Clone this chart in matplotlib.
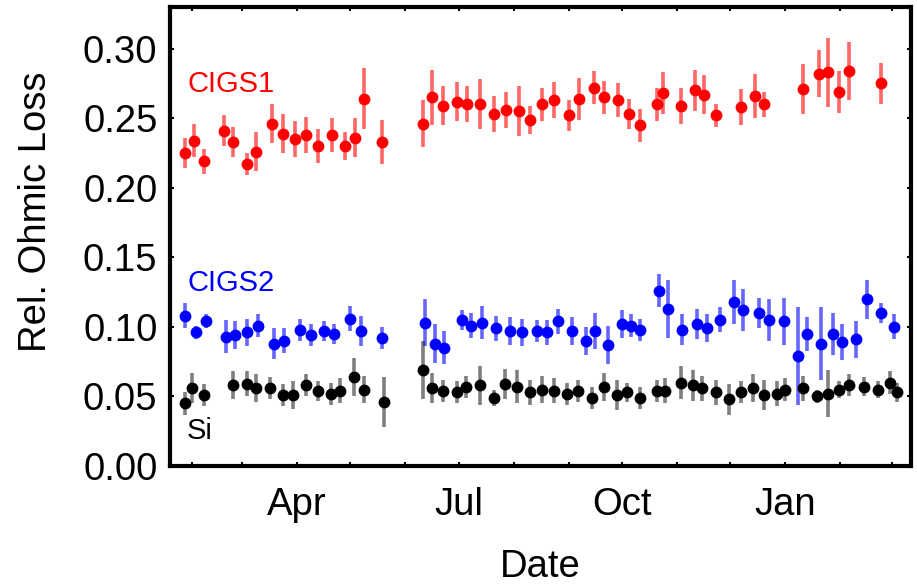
import numpy as np
import pandas as pd
import matplotlib
matplotlib.use('Agg')
from matplotlib import pyplot as plt
import matplotlib.dates as mdates

plt.rcParams['font.family'] = ['Liberation Sans', 'DejaVu Sans']

# CIGS1 (red)
cigs1_dates = ['2015-01-28', '2015-02-02', '2015-02-08', '2015-02-19', '2015-02-24', '2015-03-04',
               '2015-03-09', '2015-03-18', '2015-03-24', '2015-03-31', '2015-04-06', '2015-04-13',
               '2015-04-21', '2015-04-28', '2015-05-04', '2015-05-09', '2015-05-19',
               '2015-06-11', '2015-06-16', '2015-06-22', '2015-06-30', '2015-07-06', '2015-07-13',
               '2015-07-21', '2015-07-28', '2015-08-04', '2015-08-10', '2015-08-17', '2015-08-24',
               '2015-09-01', '2015-09-07', '2015-09-15', '2015-09-21', '2015-09-29', '2015-10-05',
               '2015-10-11', '2015-10-21', '2015-10-24', '2015-11-03', '2015-11-11', '2015-11-16',
               '2015-11-23', '2015-12-07', '2015-12-15', '2015-12-20', '2016-01-11', '2016-01-20',
               '2016-01-25', '2016-01-31', '2016-02-06', '2016-02-24']
cigs1_loss = [0.225, 0.234, 0.219, 0.241, 0.233, 0.217, 0.226, 0.246, 0.239, 0.235, 0.238, 0.230,
              0.238, 0.230, 0.236, 0.264, 0.233,
              0.246, 0.265, 0.259, 0.262, 0.260, 0.260, 0.253, 0.256, 0.255, 0.249, 0.260, 0.263,
              0.252, 0.264, 0.272, 0.265, 0.263, 0.253, 0.245, 0.260, 0.268, 0.259, 0.270, 0.267,
              0.252, 0.258, 0.266, 0.260, 0.271, 0.282, 0.283, 0.269, 0.284, 0.275]
cigs1_err = [0.011, 0.012, 0.009, 0.011, 0.011, 0.008, 0.014, 0.014, 0.014, 0.013, 0.013, 0.012,
             0.012, 0.010, 0.014, 0.022, 0.016,
             0.017, 0.020, 0.014, 0.014, 0.013, 0.018, 0.013, 0.013, 0.018, 0.010, 0.012, 0.013,
             0.011, 0.015, 0.012, 0.012, 0.012, 0.011, 0.012, 0.012, 0.015, 0.013, 0.015, 0.014,
             0.008, 0.013, 0.016, 0.009, 0.018, 0.017, 0.025, 0.015, 0.021, 0.015]

# CIGS2 (blue)
cigs2_dates = ['2015-01-28', '2015-02-03', '2015-02-09', '2015-02-20', '2015-02-25', '2015-03-04',
               '2015-03-10', '2015-03-19', '2015-03-25', '2015-04-03', '2015-04-09', '2015-04-16',
               '2015-04-22', '2015-05-01', '2015-05-07', '2015-05-19',
               '2015-06-12', '2015-06-18', '2015-06-23', '2015-07-03', '2015-07-08', '2015-07-14',
               '2015-07-22', '2015-07-30', '2015-08-06', '2015-08-14', '2015-08-20', '2015-08-26',
               '2015-09-03', '2015-09-11', '2015-09-16', '2015-09-23', '2015-10-01', '2015-10-06',
               '2015-10-11', '2015-10-22', '2015-10-27', '2015-11-04', '2015-11-12', '2015-11-18',
               '2015-11-25', '2015-12-03', '2015-12-08', '2015-12-17', '2015-12-23', '2015-12-31',
               '2016-01-08', '2016-01-13', '2016-01-21', '2016-01-28', '2016-02-02', '2016-02-10',
               '2016-02-16', '2016-02-24', '2016-03-02']
cigs2_loss = [0.108, 0.096, 0.104, 0.093, 0.094, 0.096, 0.101, 0.088, 0.090, 0.098, 0.094, 0.097,
              0.095, 0.106, 0.097, 0.092,
              0.103, 0.088, 0.085, 0.105, 0.101, 0.103, 0.099, 0.097, 0.096, 0.097, 0.096, 0.104,
              0.097, 0.090, 0.097, 0.087, 0.102, 0.101, 0.098, 0.126, 0.113, 0.098, 0.102, 0.099,
              0.105, 0.118, 0.112, 0.110, 0.105, 0.104, 0.079, 0.095, 0.088, 0.095, 0.089, 0.091,
              0.120, 0.110, 0.100]
cigs2_err = [0.009, 0.005, 0.005, 0.012, 0.010, 0.010, 0.008, 0.011, 0.009, 0.008, 0.008, 0.007,
             0.007, 0.009, 0.011, 0.008,
             0.017, 0.014, 0.012, 0.007, 0.009, 0.012, 0.009, 0.010, 0.010, 0.008, 0.009, 0.009,
             0.010, 0.010, 0.013, 0.014, 0.010, 0.008, 0.008, 0.012, 0.021, 0.011, 0.011, 0.010,
             0.009, 0.016, 0.015, 0.011, 0.015, 0.017, 0.035, 0.012, 0.026, 0.015, 0.013, 0.013,
             0.014, 0.007, 0.009]

# Si (black)
si_dates = ['2015-01-28', '2015-02-01', '2015-02-08', '2015-02-24', '2015-03-04', '2015-03-09',
            '2015-03-17', '2015-03-24', '2015-03-30', '2015-04-06', '2015-04-13', '2015-04-20',
            '2015-04-25', '2015-05-03', '2015-05-09', '2015-05-20',
            '2015-06-11', '2015-06-16', '2015-06-22', '2015-06-30', '2015-07-05', '2015-07-13',
            '2015-07-21', '2015-07-27', '2015-08-03', '2015-08-10', '2015-08-17', '2015-08-24',
            '2015-08-31', '2015-09-06', '2015-09-14', '2015-09-21', '2015-09-28', '2015-10-04',
            '2015-10-11', '2015-10-21', '2015-10-25', '2015-11-03', '2015-11-10', '2015-11-15',
            '2015-11-23', '2015-11-30', '2015-12-07', '2015-12-14', '2015-12-20', '2015-12-27',
            '2016-01-01', '2016-01-11', '2016-01-19', '2016-01-25', '2016-01-31', '2016-02-06',
            '2016-02-14', '2016-02-22', '2016-02-29', '2016-03-04']
si_loss = [0.045, 0.056, 0.051, 0.058, 0.059, 0.056, 0.056, 0.051, 0.051, 0.058, 0.054, 0.052,
           0.054, 0.064, 0.055, 0.046,
           0.069, 0.056, 0.054, 0.053, 0.057, 0.058, 0.049, 0.059, 0.057, 0.053, 0.055, 0.054,
           0.052, 0.054, 0.049, 0.057, 0.051, 0.053, 0.049, 0.054, 0.054, 0.060, 0.058, 0.056,
           0.053, 0.048, 0.053, 0.056, 0.051, 0.052, 0.055, 0.056, 0.050, 0.052, 0.055, 0.058,
           0.057, 0.055, 0.060, 0.053]
si_err = [0.008, 0.011, 0.008, 0.010, 0.009, 0.010, 0.008, 0.008, 0.010, 0.008, 0.007, 0.008,
          0.009, 0.014, 0.010, 0.018,
          0.021, 0.011, 0.008, 0.008, 0.008, 0.014, 0.006, 0.011, 0.012, 0.009, 0.010, 0.009,
          0.008, 0.008, 0.008, 0.010, 0.011, 0.007, 0.008, 0.008, 0.009, 0.012, 0.011, 0.009,
          0.009, 0.011, 0.008, 0.010, 0.011, 0.009, 0.008, 0.009, 0.005, 0.017, 0.006, 0.008,
          0.007, 0.006, 0.008, 0.007]

series = [
    ('CIGS1', cigs1_dates, cigs1_loss, cigs1_err, (1, 0, 0), 0.6, 0.2746),
    ('CIGS2', cigs2_dates, cigs2_loss, cigs2_err, (0, 0, 1), 0.6, 0.1317),
    ('Si', si_dates, si_loss, si_err, (0, 0, 0), 0.5, 0.0255),
]

fig = plt.figure(figsize=(9.17, 5.84), dpi=100)
ax = fig.add_axes([170 / 917, 1 - 466 / 584, 741 / 917, 459 / 584])

for name, dates, loss, err, color, alpha, label_y in series:
    x = pd.to_datetime(dates)
    ax.errorbar(x, loss, yerr=err, fmt='o', color=color, markersize=7.5,
                ecolor=color + (alpha,), elinewidth=2.6, capsize=0)
    # series label inside the frame
    ax.text(0.023, label_y, name, color=color, fontsize=21,
            transform=ax.get_yaxis_transform(), va='center')

ax.set_xlim(pd.Timestamp('2015-01-19 14:00'), pd.Timestamp('2016-03-11 17:00'))
ax.set_ylim(0, 0.330)
ax.set_yticks(np.arange(0, 0.31, 0.05))
ax.yaxis.set_major_formatter(plt.FormatStrFormatter('%.2f'))

ax.xaxis.set_major_locator(mdates.MonthLocator(bymonth=[1, 4, 7, 10]))
ax.xaxis.set_minor_locator(mdates.MonthLocator())
ax.xaxis.set_major_formatter(mdates.DateFormatter('%b'))

ax.tick_params(which='both', direction='in', top=True, right=True,
               length=3, width=1.5, labelsize=27.5)
ax.tick_params(axis='x', which='major', pad=15)
ax.tick_params(axis='y', which='major', pad=9)
for s in ax.spines.values():
    s.set_linewidth(3)

ax.set_ylabel('Rel. Ohmic Loss', fontsize=27.5, va='center')
ax.yaxis.set_label_coords(-0.181, 0.553)
ax.set_xlabel('Date', fontsize=27.5, va='center')
ax.xaxis.set_label_coords(0.5, -0.22)

fig.savefig('out.png', dpi=100)
